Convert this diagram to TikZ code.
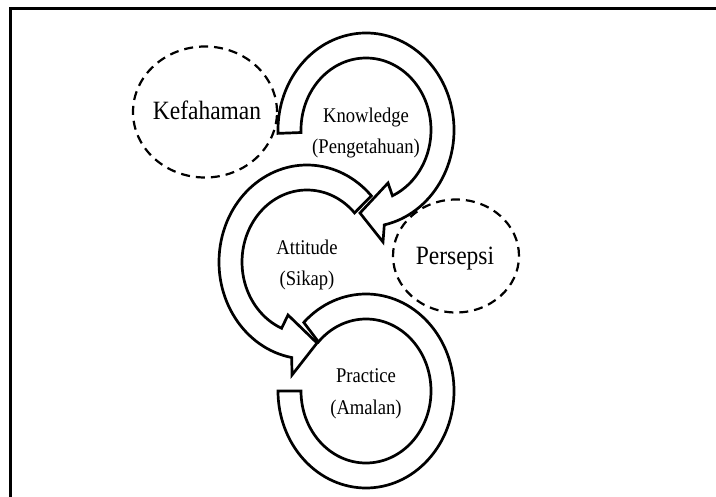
\documentclass[tikz,border=0pt]{standalone}
\usepackage{fontspec}
\setmainfont{Liberation Serif}[FakeStretch=0.89]
\usepackage{tikz}
\usetikzlibrary{calc}

\begin{document}
\begin{tikzpicture}[
  x=1bp, y=1bp,
  ring/.style={
    draw=black, fill=white, line width=2.7bp, line join=miter
  },
  cloud/.style={
    draw=black, dash pattern=on 9bp off 6bp, line width=2.2bp
  },
  big/.style={
    inner sep=0pt, font=\fontsize{26.5}{32}\selectfont
  },
  lbl/.style={
    align=center, inner sep=0pt, yshift=-3bp, font=\fontsize{21}{32}\selectfont
  }
]
\useasboundingbox (0,0) rectangle (716,-497);
\draw[line width=3bp] (10,-497) -- (10,-9) -- (716,-9);

\coordinate (kc) at (366,-130);
\coordinate (ac) at (307,-262);
\coordinate (pc) at (366,-391);

\draw[cloud] (205,-112) ellipse[x radius=72, y radius=65.5];
\draw[cloud] (456,-256) ellipse[x radius=63, y radius=56.5];
\node[big] (kef) at (207,-110) {Kefahaman};
\node[big] (per) at (455,-259) {Persepsi};

% practice
\draw[ring] ($(pc)+(180:65 and 72)$)
  arc[start angle=180, end angle=497, x radius=65, y radius=72]
  -- ($(pc)+(495:88 and 97)$)
  arc[start angle=495, end angle=180, x radius=88, y radius=97] -- cycle;

% attitude
\draw[ring] ($(ac)+(43:65 and 72)$)
  arc[start angle=43, end angle=247, x radius=65, y radius=72]
  -- ($(ac)+(-19,-53)$) -- ($(ac)+(10,-81)$) -- ($(ac)+(-15,-113)$)
  -- ($(ac)+(260:88 and 97)$)
  arc[start angle=260, end angle=43, x radius=88, y radius=97] -- cycle;

% knowledge
\draw[ring] ($(kc)+(182:65 and 72)$)
  arc[start angle=182, end angle=-66, x radius=65, y radius=72]
  -- ($(kc)+(22,-53)$) -- ($(kc)+(-6,-83)$) -- ($(kc)+(17,-112)$)
  -- ($(kc)+(-78:88 and 97)$)
  arc[start angle=-78, end angle=182, x radius=88, y radius=97] -- cycle;

\node[lbl] (know) at (kc) {Knowledge\\(Pengetahuan)};
\node[lbl] (att) at (ac) {Attitude\\(Sikap)};
\node[lbl] (prac) at (pc) {Practice\\(Amalan)};
\end{tikzpicture}
\end{document}
